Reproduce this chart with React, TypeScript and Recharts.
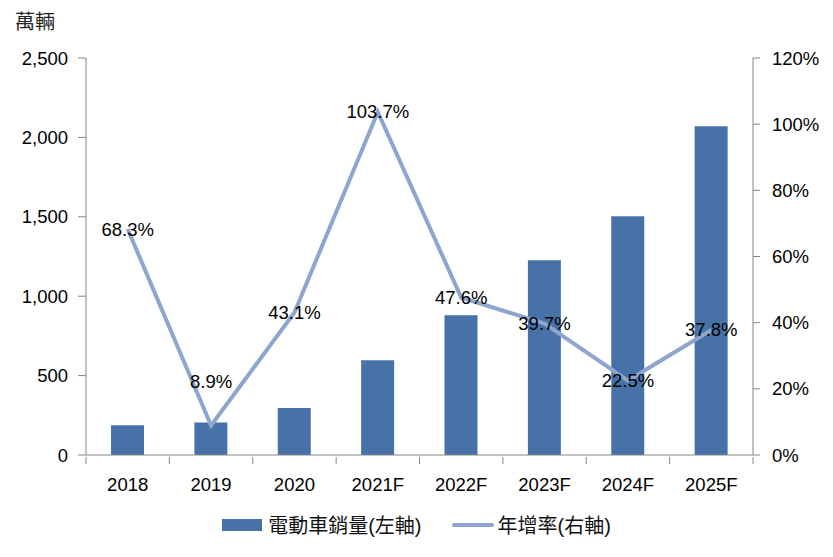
import { Bar, ComposedChart, LabelList, Legend, Line, XAxis, YAxis } from "recharts";

const years = ["2018", "2019", "2020", "2021F", "2022F", "2023F", "2024F", "2025F"];
const sales = [187, 205, 296, 597, 880, 1226, 1503, 2070];
const growth = [68.3, 8.9, 43.1, 103.7, 47.6, 39.7, 22.5, 37.8];
const leftTicks = [0, 500, 1000, 1500, 2000, 2500];
const rightTicks = [0, 20, 40, 60, 80, 100, 120];

const FONT = '"Liberation Sans", "Noto Sans CJK TC", sans-serif';
const BAR = "#4672A8";
const LINE = "#8EA6CE";
const AXIS = "#868686";

const data = years.map((y, i) => ({ year: y, sales: sales[i], growth: growth[i] }));

// category label plus tick marks on the band edges, like Excel
function YearTick(props: any) {
  const { x, y, payload, index, width, visibleTicksCount } = props;
  const half = width / visibleTicksCount / 2;
  const top = y - 8;
  return (
    <g>
      <line x1={x - half} x2={x - half} y1={top} y2={top + 7} stroke={AXIS} />
      {index === visibleTicksCount - 1 && <line x1={x + half} x2={x + half} y1={top} y2={top + 7} stroke={AXIS} />}
      <text x={x} y={y + 19} textAnchor="middle" dominantBaseline="central" fontSize={18.5} fill="#000">
        {payload.value}
      </text>
    </g>
  );
}

function RateLabel(props: any) {
  const { x, y, index, value } = props;
  const lift = index === 1 ? 44 : 0;
  return (
    <text x={x} y={y - lift} textAnchor="middle" dominantBaseline="central" fontSize={18.5} fill="#000">
      {value.toFixed(1)}%
    </text>
  );
}

function LegendBox() {
  return (
    <div style={{ display: "flex", justifyContent: "center", alignItems: "center", fontSize: 20, color: "#111", fontFamily: FONT }}>
      <span style={{ display: "inline-block", width: 40, height: 12, background: BAR, marginRight: 6 }} />
      <span>電動車銷量(左軸)</span>
      <span style={{ display: "inline-block", width: 42, height: 4, background: LINE, marginLeft: 30, marginRight: 4, borderRadius: 2 }} />
      <span>年增率(右軸)</span>
    </div>
  );
}

export default function App() {
  return (
    <div style={{ position: "absolute", left: 0, top: 0, width: 833, height: 557, background: "#fff", fontFamily: FONT }}>
      <div style={{ position: "absolute", left: 15, top: 6, fontSize: 20, color: "#222" }}>萬輛</div>
      <ComposedChart width={833} height={557} data={data} margin={{ top: 58, right: 0, left: 0, bottom: 17 }} barCategoryGap="30%">
        <XAxis
          dataKey="year"
          height={55}
          tickLine={false}
          tickSize={8}
          stroke={AXIS}
          tick={<YearTick />}
        />
        <YAxis
          yAxisId="left"
          width={86}
          domain={[0, 2500]}
          ticks={leftTicks}
          tickSize={8}
          tickMargin={10}
          stroke={AXIS}
          tick={{ fontSize: 18.5, fill: "#000" }}
          tickFormatter={(v) => v.toLocaleString("en-US")}
        />
        <YAxis
          yAxisId="right"
          orientation="right"
          width={80}
          domain={[0, 120]}
          ticks={rightTicks}
          tickSize={7}
          tickMargin={12}
          stroke={AXIS}
          tick={{ fontSize: 18.5, fill: "#000", textAnchor: "start" }}
          tickFormatter={(v) => `${v}%`}
        />
        <Legend verticalAlign="bottom" height={30} content={() => <LegendBox />} />
        <Bar yAxisId="left" dataKey="sales" fill={BAR} isAnimationActive={false} />
        <Line
          yAxisId="right"
          dataKey="growth"
          stroke={LINE}
          strokeWidth={4}
          dot={false}
          type="linear"
          isAnimationActive={false}
        >
          <LabelList dataKey="growth" content={<RateLabel />} />
        </Line>
      </ComposedChart>
    </div>
  );
}
